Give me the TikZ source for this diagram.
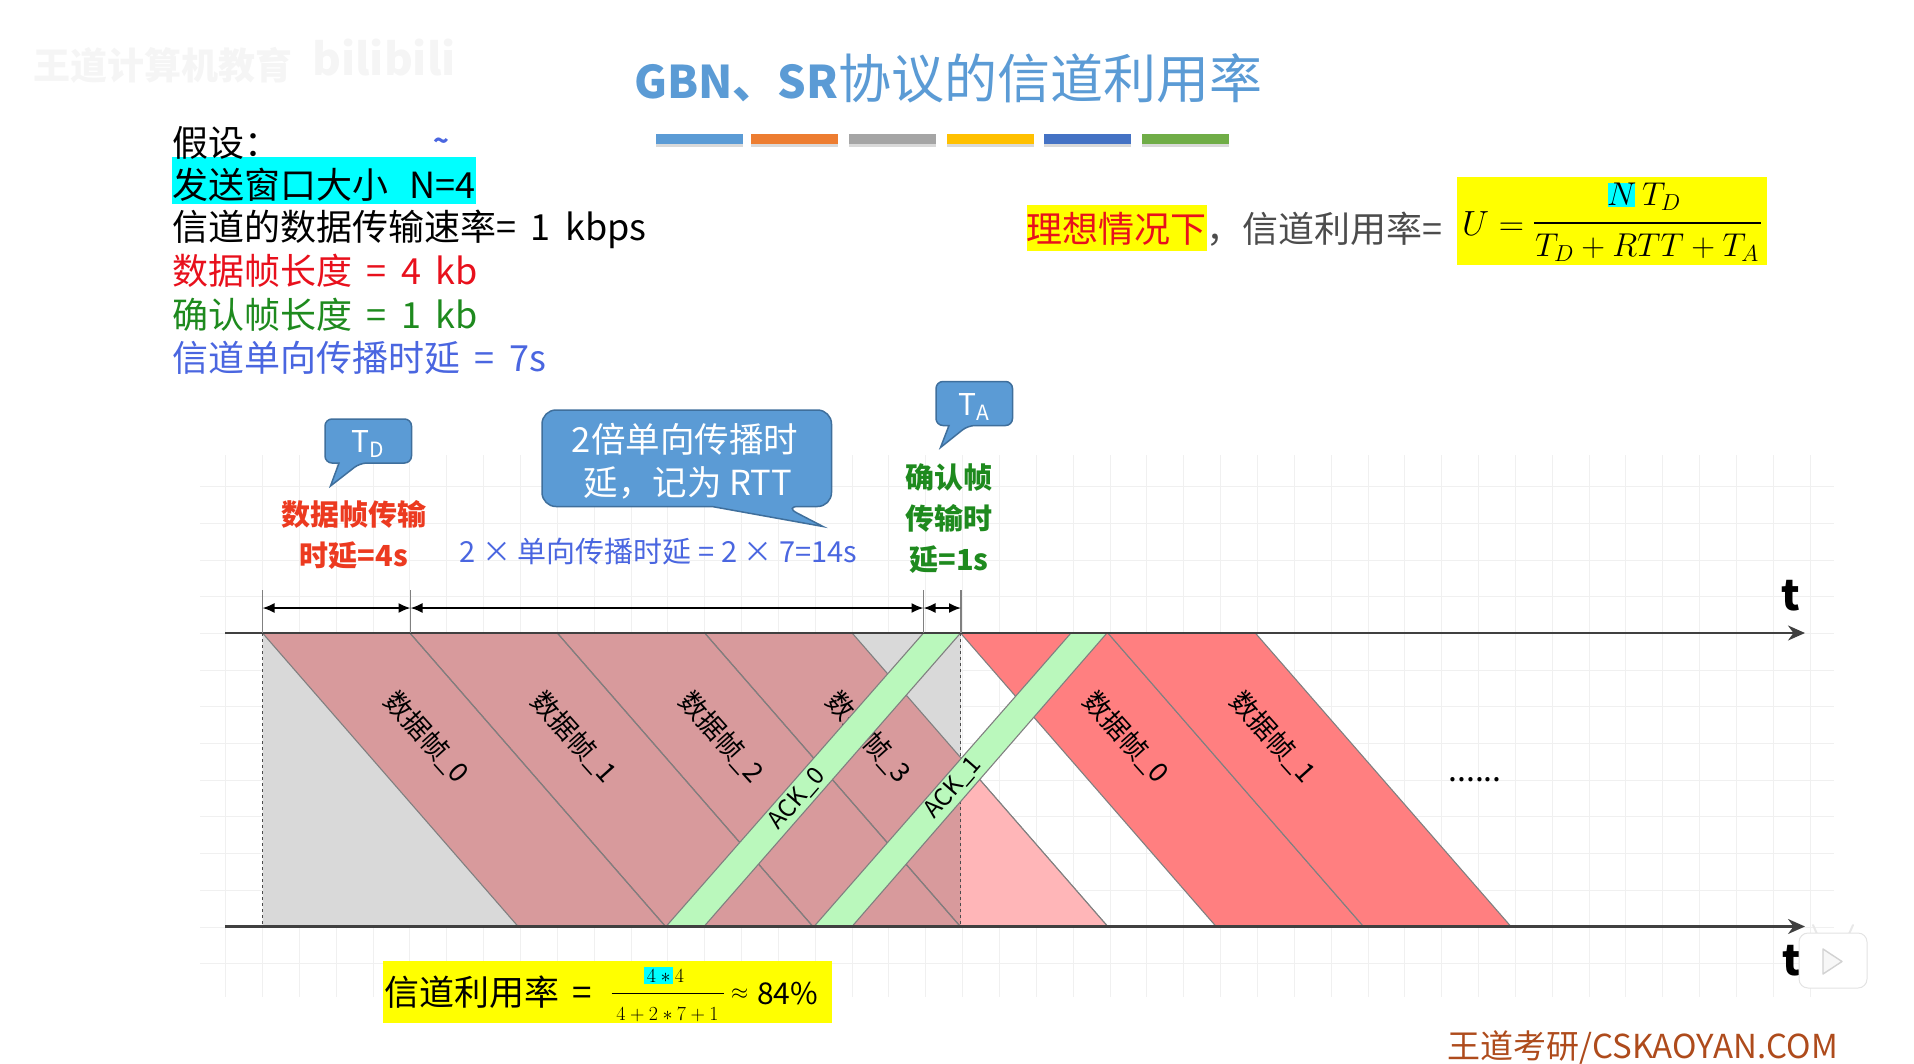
\documentclass[tikz,border=0pt]{standalone}
\usepackage{fix-cm}
\usepackage{fontspec}
\usetikzlibrary{arrows.meta}
\setmainfont{Noto Sans CJK SC}
\newfontfamily\listfont[WordSpace=1.8]{Noto Sans CJK SC}
\definecolor{slideblue}{HTML}{5B9BD5}
\definecolor{calloutline}{HTML}{3F6F9C}
\definecolor{listblue}{HTML}{4A66E0}
\definecolor{listgreen}{HTML}{1E8A1E}
\definecolor{listred}{HTML}{E8101C}
\definecolor{tdred}{HTML}{EC3A20}
\definecolor{ackgreen}{HTML}{BAF8BC}
\definecolor{nextred}{HTML}{FF7F80}
\definecolor{footbrown}{HTML}{AE4B1C}
\definecolor{hlyellow}{HTML}{FFFF00}
\definecolor{hlcyan}{HTML}{00FFFF}
\definecolor{sentred}{RGB}{215,0,10}
\definecolor{lostpink}{HTML}{FFB6B8}
\tikzset{
  txt/.style={inner sep=0pt, font=\fontsize{#1}{#1}\selectfont},
  line/.style={inner sep=0pt, font=\listfont\fontsize{36}{36}\selectfont, anchor=west},
  boldtxt/.style={inner sep=0pt, font=\fontsize{#1}{#1}\selectfont\bfseries},
  gridline/.style={gray!12, line width=1pt},
  frameedge/.style={draw=gray, line width=1.1pt},
  callout/.style={fill=slideblue, draw=calloutline, line width=1.5pt},
  axisline/.style={-{Stealth[length=17pt,width=15pt]}, draw=black!75, line width=2.4pt},
  dimline/.style={{Latex[length=12pt,width=10pt]}-{Latex[length=12pt,width=10pt]}, black, line width=1.8pt},
  tickline/.style={gray, line width=1.3pt},
  framelabel/.style={txt=27, rotate=-48},
  acklabel/.style={txt=24, rotate=49}
}
\begin{document}
\begin{tikzpicture}[x=1pt, y=-1pt]
  \useasboundingbox (0,0) rectangle (1914,1063);

  % grid behind the timing chart
  \foreach \gy in {0,...,13} \draw[gridline] (200,{486.6+\gy*36.7}) -- (1834,{486.6+\gy*36.7});
  \foreach \gx in {-1,...,42} \draw[gridline] ({262.5+\gx*36.85},455) -- ({262.5+\gx*36.85},997);

  % header
  \node[boldtxt=37, text=gray!8, anchor=west] (brand) at (33,65) {王道计算机教育};
  \node[boldtxt=44, text=gray!8, anchor=west] (bili) at (312,58) {bilibili};
  \node[txt=53, text=slideblue, anchor=west] (title) at (634,78) {{\fontsize{45}{45}\selectfont\bfseries GBN、SR}协议的信道利用率};
  \foreach \bx/\bcol in {656/5B9BD5,751/ED7D31,849/A5A5A5,947/FFC000,1044/4472C4,1142/70AD47} {
    \definecolor{barcol}{HTML}{\bcol}
    \fill[gray!30] (\bx,137) rectangle ++(87,10);
    \fill[barcol] (\bx,134) rectangle ++(87,10);
  }

  % assumptions
  \fill[hlcyan] (172,157) rectangle (476,204);
  \node[line] (assume) at (172,143) {假设：};
  \node[boldtxt=26, text=listblue] (mark) at (441,144) {\textasciitilde};
  \node[line] (window) at (172,185) {发送窗口大小\hspace{7pt} N=4};
  \node[line] (rate) at (172,229) {信道的数据传输速率= 1 kbps};
  \node[line, text=listred] (datalen) at (172,271) {数据帧长度 = 4 kb};
  \node[line, text=listgreen] (acklen) at (172,315) {确认帧长度 = 1 kb};
  \node[line, text=listblue] (delay) at (172,358) {信道单向传播时延 = 7s};

  % ideal formula
  \fill[hlyellow] (1026.5,205) rectangle (1206.5,250.5);
  \fill[hlyellow] (1456.5,176.5) rectangle (1767,265);
  \fill[hlcyan] (1608,183) rectangle (1635,206.5);
  \node[txt=36, text=listred, anchor=west] (ideal) at (1026.5,229) {理想情况下};
  \node[txt=36, text=black!70, anchor=west] (idealrest) at (1206.5,229) {，信道利用率=};
  \node[txt=35, anchor=west] (ideala) at (1462,224) {$U=$};
  \node[txt=33] (idealtop) at (1644,197) {$N\,T_D$};
  \node[txt=33] (idealbot) at (1647,248) {$T_D+RTT+T_A$};
  \draw[black, line width=2pt] (1534,223) -- (1761,223);

  % gray period and first window
  \fill[gray!30] (262.5,633) rectangle (960.6,926.5);
  \foreach \ts in {0,4,8,12}
    \draw[frameedge, fill=sentred, fill opacity=.29, xshift={\ts*36.85pt}] (262.5,633) -- (409.9,633) -- (665.5,926.5) -- (518.1,926.5) -- cycle;
  \fill[lostpink] (960.6,757.6) -- (1107.7,926.5) -- (960.6,926.5) -- cycle;
  \draw[frameedge] (960.6,757.6) -- (1107.7,926.5);
  \draw[dashed, black!70, line width=1.1pt] (262.5,633) -- (262.5,926.5);
  \draw[dashed, black!70, line width=1.1pt] (960.6,633) -- (960.6,926.5);

  % next window
  \foreach \ts in {0,4}
    \draw[frameedge, fill=nextred, xshift={\ts*36.85pt}] (960.5,633) -- (1107.9,633) -- (1363.5,926.5) -- (1216.1,926.5) -- cycle;

  \foreach \ft/\fx in {0/426.5,1/574,2/721.5,3/868.5}
    \node[framelabel] (frame\ft) at (\fx,737) {数据帧\_\ft};
  \node[framelabel] (nextzero) at (1126,737) {数据帧\_0};
  \node[framelabel] (nextone) at (1273,737) {数据帧\_1};

  % acknowledgements
  \draw[frameedge, fill=ackgreen] (666,926.5) -- (704,926.5) -- (960.6,633) -- (923.5,633) -- cycle;
  \draw[frameedge, fill=ackgreen] (814,926.5) -- (852,926.5) -- (1107,633) -- (1071,633) -- cycle;
  \node[acklabel] (ackzero) at (797,799) {ACK\_0};
  \node[acklabel] (ackone) at (953,788) {ACK\_1};
  \node[txt=32, anchor=base] (more) at (1475,781) {......};

  % axes
  \coordinate (topa) at (225,633);
  \coordinate (topb) at (1805,633);
  \coordinate (bota) at (225,926.5);
  \coordinate (botb) at (1805,926.5);
  \draw[axisline] (topa) -- (topb);
  \draw[axisline] (bota) -- (botb);
  \node[boldtxt=42] (ttop) at (1791,596) {t};
  \node[boldtxt=42] (tbot) at (1792,961) {t};

  % dimensions
  \coordinate (dima) at (262.5,608);
  \coordinate (dimb) at (410.5,608);
  \coordinate (dimc) at (923.5,608);
  \coordinate (dimd) at (961,608);
  \foreach \dp in {dima,dimb,dimc,dimd} \draw[tickline] (\dp) ++(0,-18) -- ++(0,43);
  \draw[dimline] (dima) -- (dimb);
  \draw[dimline] (dimb) -- (dimc);
  \draw[dimline] (dimc) -- (dimd);

  % callouts
  \draw[callout, rounded corners=7pt] (325,419) -- (411.5,419) -- (411.5,463) -- (360,463) [sharp corners] -- (330.5,486) -- (339,463) [rounded corners=7pt] -- (325,463) -- cycle;
  \draw[callout, rounded corners=14pt] (542,410) -- (831.5,410) -- (831.5,506.5) -- (784.5,506.5) [sharp corners] -- (823,526.5) -- (712,506.5) [rounded corners=14pt] -- (542,506.5) -- cycle;
  \draw[callout, rounded corners=7pt] (936,381.5) -- (1012.5,381.5) -- (1012.5,425.5) -- (968,425.5) [sharp corners] -- (940.5,447.5) -- (949,425.5) [rounded corners=7pt] -- (936,425.5) -- cycle;
  \node[txt=30, text=white] (td) at (368,444) {T\textsubscript{D}};
  \node[txt=30, text=white] (ta) at (974,407) {T\textsubscript{A}};
  \node[txt=34.5, text=white] (rttone) at (685,439) {2倍单向传播时};
  \node[txt=34.5, text=white] (rtttwo) at (688,483) {延，记为 RTT};

  % labels over the chart
  \node[boldtxt=29, text=tdred] (tdone) at (354,514) {数据帧传输};
  \node[boldtxt=29, text=tdred] (tdtwo) at (354,556) {时延=4s};
  \node[txt=29, text=listblue] (prop) at (658.5,552) {2 × 单向传播时延 = 2 × 7=14s};
  \node[boldtxt=29, text=listgreen] (taone) at (949,477) {确认帧};
  \node[boldtxt=29, text=listgreen] (tatwo) at (949,518) {传输时};
  \node[boldtxt=29, text=listgreen] (tathree) at (949,560) {延=1s};

  % result
  \fill[hlyellow] (383,960.5) rectangle (832,1022.5);
  \fill[hlcyan] (644,967) rectangle (673,984);
  \node[txt=35, anchor=west] (result) at (384,992) {信道利用率\hspace{5pt} =};
  \node[txt=20] (resulttop) at (665.5,976) {$4*4$};
  \node[txt=20] (resultbot) at (667.5,1015) {$4+2*7+1$};
  \draw[black, line width=1.8pt] (611.5,993.5) -- (723.5,993.5);
  \node[txt=22, anchor=west] (approx) at (731,994) {$\approx$};
  \node[txt=30, anchor=west] (percent) at (757,993) {84\%};

  % footer and player mark
  \node[txt=33, text=footbrown, anchor=east] (footer) at (1838,1048) {王道考研/CSKAOYAN.COM};
  \draw[gray!18, line width=2pt, line cap=round] (1817,934) -- (1813,925) (1849,934) -- (1853,925);
  \draw[gray!22, fill=white, line width=1pt, rounded corners=9pt] (1799,933) rectangle (1867,988);
  \draw[gray!35, fill=gray!6, line width=1.4pt, line join=round] (1823,949) -- (1823,974) -- (1842,961.5) -- cycle;
\end{tikzpicture}
\end{document}
